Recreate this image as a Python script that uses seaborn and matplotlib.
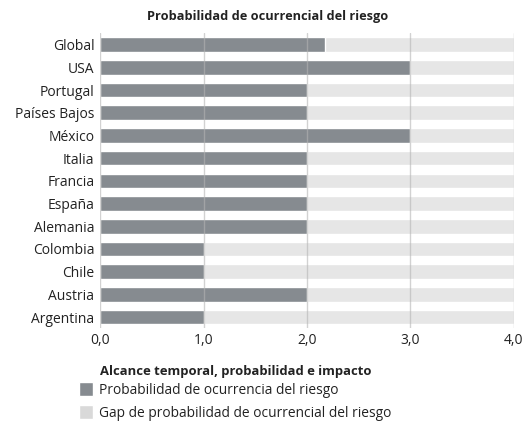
import matplotlib
matplotlib.use("Agg")
import matplotlib.pyplot as plt
import seaborn as sns
import pandas as pd
from matplotlib.patches import Patch

# datos
paises = ["Global", "USA", "Portugal", "Países Bajos", "México", "Italia", "Francia",
          "España", "Alemania", "Colombia", "Chile", "Austria", "Argentina"]
probabilidad = [2.17, 3.0, 2.0, 2.0, 3.0, 2.0, 2.0, 2.0, 2.0, 1.0, 1.0, 2.0, 1.0]
gap = [1.83, 1.0, 2.0, 2.0, 1.0, 2.0, 2.0, 2.0, 2.0, 3.0, 3.0, 2.0, 3.0]
ticks_x = [0, 1, 2, 3, 4]
etiquetas_x = ["0,0", "1,0", "2,0", "3,0", "4,0"]

df = pd.DataFrame({"pais": paises, "prob": probabilidad, "gap": gap})
df["total"] = df["prob"] + df["gap"]

oscuro = "#868b90"
claro = "#e6e6e6"
claro_ley = "#d9d9d9"

sns.set_style("white")
plt.rcParams['font.family'] = ['Open Sans', 'DejaVu Sans']

fig = plt.figure(figsize=(5.25, 4.24), dpi=100)
ax = fig.add_axes([0.1905, 0.2255, 0.7885, 0.696])

sns.barplot(data=df, y="pais", x="total", color=claro, orient="h",
            width=0.64, saturation=1, ax=ax)
sns.barplot(data=df, y="pais", x="prob", color=oscuro, orient="h",
            width=0.64, saturation=1, ax=ax)

# lineas de la rejilla encima de las barras
for t in ticks_x:
    ax.axvline(t, color="#b4b4b4", lw=1, alpha=0.6, zorder=5)

ax.set_xlim(0, 4)
ax.set_ylim(12.5, -0.5)
ax.set_xticks(ticks_x)
ax.set_xticklabels(etiquetas_x)
ax.set_xlabel("")
ax.set_ylabel("")
for s in ax.spines.values():
    s.set_visible(False)
ax.tick_params(axis="both", length=0, labelsize=10, colors="#222222", pad=4)
ax.tick_params(axis="x", pad=3)

fig.text(0.51, 0.96, "Probabilidad de ocurrencial del riesgo", ha="center", va="center",
         fontsize=9.2, fontweight="bold", color="#222222")

fig.text(0.19, 0.125, "Alcance temporal, probabilidad e impacto", ha="left", va="center",
         fontsize=9.4, fontweight="bold", color="#222222")
handles = [Patch(facecolor=oscuro, label="Probabilidad de ocurrencia del riesgo"),
           Patch(facecolor=claro_ley, label="Gap de probabilidad de ocurrencial del riesgo")]
fig.legend(handles=handles, loc="upper left", bbox_to_anchor=(0.15, 0.099),
           frameon=False, fontsize=9.9, handlelength=1.05, handleheight=1.2,
           handletextpad=0.4, labelspacing=0.55, borderaxespad=0, borderpad=0,
           labelcolor="#222222")

fig.savefig("out.png", dpi=100)
